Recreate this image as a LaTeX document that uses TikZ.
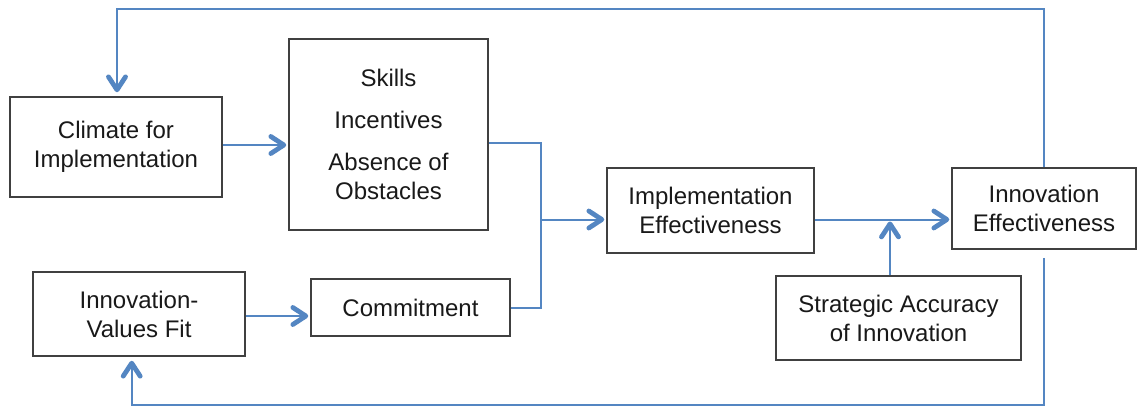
\documentclass[tikz,border=0pt]{standalone}
\usepackage{fontspec}
\setmainfont{Liberation Sans}
\usetikzlibrary{arrows.meta}
\definecolor{flowblue}{RGB}{84,134,194}
\definecolor{boxline}{RGB}{64,64,64}
\begin{document}
\begin{tikzpicture}[x=1pt,y=-1pt,
  box/.style={draw=boxline, line width=1.5pt, fill=white, align=center,
    inner sep=0pt, font=\fontsize{24}{29}\selectfont, text=black!90},
  link/.style={draw=flowblue, line width=2pt},
  flow/.style={link, -{Straight Barb[length=13pt,width=17pt,line width=4.8pt,round]},
    shorten >=2pt}]
\useasboundingbox (0,0) rectangle (1138,407);

% boxes
\node[box, minimum width=212pt, minimum height=100pt] (climate) at (116,147)
  {Climate for\\Implementation};
\node[box, minimum width=199pt, minimum height=191pt] (skills) at (388.5,134.5)
  {Skills\\[13pt]Incentives\\[13pt]Absence of\\Obstacles};
\node[box, minimum width=212pt, minimum height=84pt] (values) at (139,314)
  {Innovation-\\Values Fit};
\node[box, minimum width=199pt, minimum height=57pt] (commit) at (410.5,307.5)
  {Commitment};
\node[box, minimum width=207pt, minimum height=85pt] (impl) at (710.5,210.5)
  {Implementation\\Effectiveness};
\node[box, minimum width=184pt, minimum height=81pt] (innov) at (1044,208.5)
  {Innovation\\Effectiveness};
\node[box, minimum width=245pt, minimum height=84pt] (strat) at (898.5,318)
  {Strategic Accuracy\\of Innovation};

% routing points
\coordinate (J) at (541,219.5);
\coordinate (S) at (890,219.5);
\coordinate (topL) at (117,9);
\coordinate (botL) at (131.7,405);

% connectors
\draw[flow] ([yshift=2pt]climate.east) -- ([yshift=2pt]climate.east -| skills.west);
\draw[flow] ([yshift=-2pt]values.east) -- ([yshift=-2pt]values.east -| commit.west);
\draw[link] ([yshift=-8.5pt]skills.east) -| (J);
\draw[link] (commit.east) -| (J);
\draw[flow] (J) -- (J -| impl.west);
\draw[flow] (impl.east |- J) -- (J -| innov.west);
\draw[flow] (S |- strat.north) -- (S);
\draw[flow, shorten >=4pt] (innov.north) |- (topL) -- (topL |- climate.north);
\draw[flow, shorten <=8pt, shorten >=4pt] (innov.south) |- (botL) -- (botL |- values.south);
\end{tikzpicture}
\end{document}
